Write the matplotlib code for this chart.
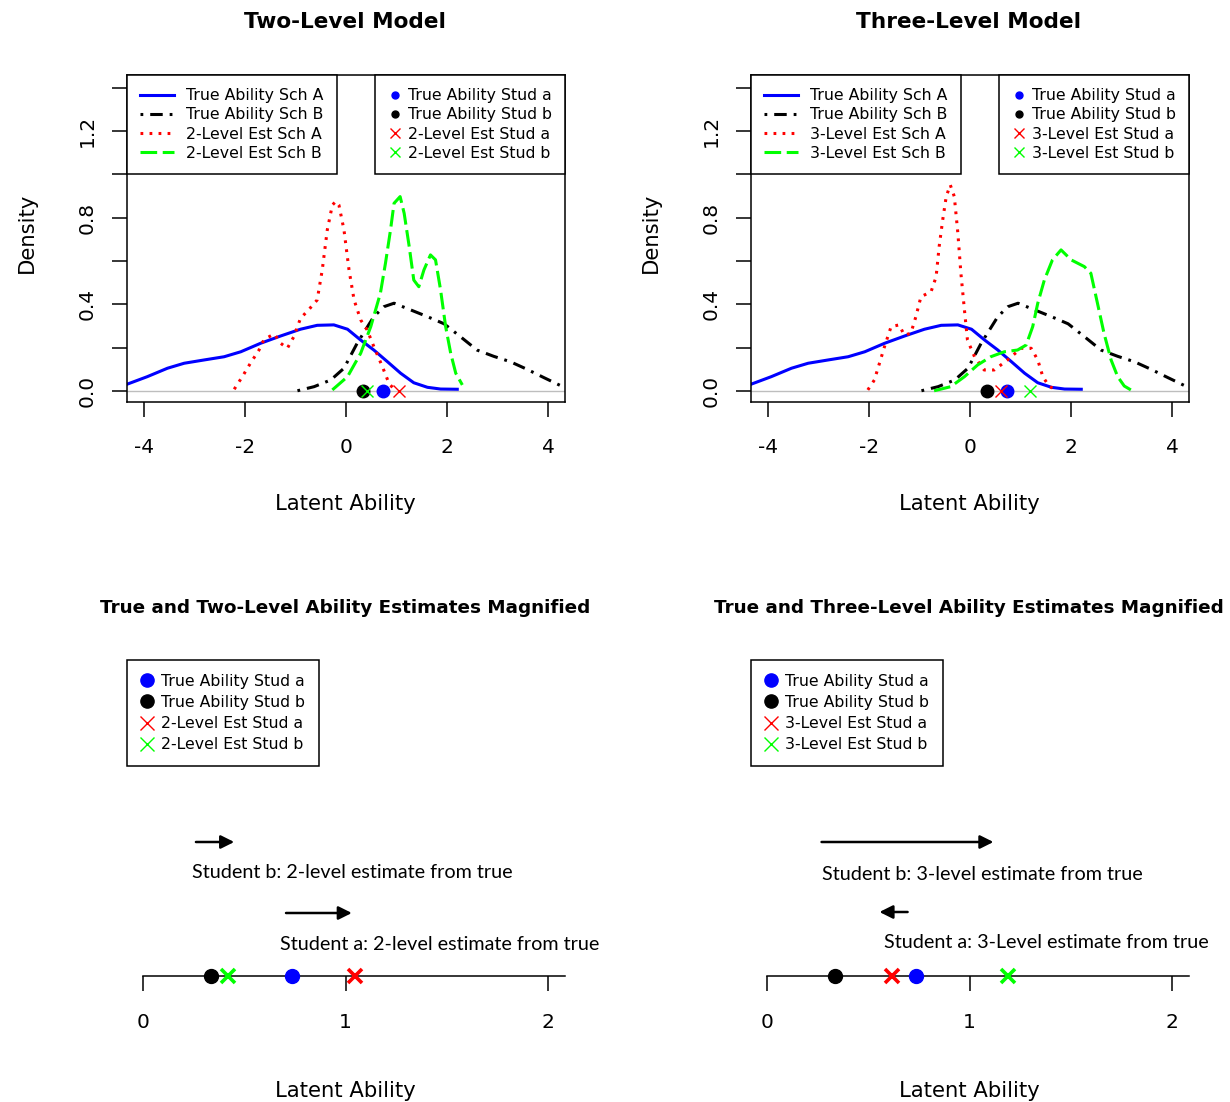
import numpy as np
import matplotlib
matplotlib.use("Agg")
import matplotlib.pyplot as plt
from matplotlib.lines import Line2D
from matplotlib.patches import Rectangle

plt.rcParams['font.family'] = 'DejaVu Sans'
plt.rcParams['lines.scale_dashes'] = False

W, H, DPI = 1230, 1102, 100

# density curves, school A / school B
true_a_x = [-4.32, -3.93, -3.53, -3.20, -2.81, -2.41, -2.08, -1.69, -1.29, -0.90, -0.57, -0.24, 0.03, 0.29, 0.55, 0.82, 1.08, 1.34, 1.61, 1.87, 2.20]
true_a_y = [0.032, 0.066, 0.105, 0.128, 0.143, 0.158, 0.181, 0.220, 0.254, 0.285, 0.303, 0.305, 0.285, 0.235, 0.189, 0.135, 0.082, 0.038, 0.017, 0.009, 0.008]
true_b_x = [-0.96, -0.63, -0.30, -0.04, 0.22, 0.55, 0.75, 0.95, 1.28, 1.61, 1.94, 2.26, 2.59, 2.92, 3.25, 3.58, 3.91, 4.33]
true_b_y = [0.001, 0.020, 0.051, 0.105, 0.220, 0.343, 0.389, 0.405, 0.374, 0.343, 0.310, 0.251, 0.189, 0.160, 0.135, 0.100, 0.062, 0.015]

est2_a_x = [-2.21, -2.05, -1.89, -1.72, -1.62, -1.42, -1.29, -1.16, -1.03, -0.90, -0.73, -0.57, -0.47, -0.37, -0.27, -0.20, -0.14, -0.04, 0.06, 0.16, 0.29, 0.42, 0.55, 0.72, 0.85, 0.95]
est2_a_y = [0.008, 0.066, 0.128, 0.189, 0.238, 0.263, 0.220, 0.197, 0.251, 0.335, 0.377, 0.420, 0.558, 0.743, 0.858, 0.875, 0.858, 0.743, 0.558, 0.420, 0.328, 0.281, 0.205, 0.112, 0.035, 0.008]
est2_b_x = [-0.27, 0.03, 0.29, 0.49, 0.68, 0.78, 0.88, 0.95, 1.07, 1.15, 1.25, 1.34, 1.44, 1.54, 1.67, 1.77, 1.87, 1.97, 2.07, 2.17, 2.30]
est2_b_y = [0.005, 0.066, 0.174, 0.297, 0.451, 0.589, 0.743, 0.866, 0.897, 0.820, 0.666, 0.512, 0.481, 0.558, 0.628, 0.605, 0.466, 0.297, 0.174, 0.082, 0.028]

est3_a_x = [-2.02, -1.89, -1.79, -1.69, -1.56, -1.40, -1.30, -1.17, -1.07, -0.97, -0.77, -0.67, -0.61, -0.54, -0.47, -0.39, -0.31, -0.24, -0.18, -0.11, -0.05, 0.09, 0.28, 0.48, 0.74, 1.01, 1.21, 1.34, 1.44, 1.57, 1.73]
est3_a_y = [0.005, 0.051, 0.128, 0.205, 0.297, 0.305, 0.258, 0.266, 0.343, 0.435, 0.458, 0.527, 0.666, 0.789, 0.897, 0.951, 0.897, 0.728, 0.543, 0.374, 0.235, 0.158, 0.097, 0.097, 0.143, 0.197, 0.197, 0.143, 0.066, 0.020, 0.005]
est3_b_x = [-0.71, -0.38, -0.11, 0.15, 0.41, 0.68, 0.94, 1.11, 1.24, 1.34, 1.47, 1.63, 1.80, 2.00, 2.26, 2.39, 2.52, 2.65, 2.79, 2.92, 3.05, 3.18]
est3_b_y = [0.001, 0.020, 0.066, 0.120, 0.158, 0.181, 0.189, 0.212, 0.297, 0.405, 0.512, 0.605, 0.651, 0.605, 0.574, 0.543, 0.405, 0.266, 0.143, 0.066, 0.023, 0.005]

# individual students
stud_a_true = 0.736
stud_b_true = 0.336
stud_a_est2 = 1.045
stud_b_est2 = 0.416
stud_a_est3 = 0.617
stud_b_est3 = 1.187

fig = plt.figure(figsize=(W / DPI, H / DPI), dpi=DPI)


def fx(x):
    return x / W


def fy(y):
    return 1 - y / H


def px_axes(x0, y0, x1, y1):
    return fig.add_axes([x0 / W, 1 - y1 / H, (x1 - x0) / W, (y1 - y0) / H])


GREEN = '#00ff00'


def density_panel(left, ea_x, ea_y, eb_x, eb_y, est_a, est_b, lvl, title):
    ax = px_axes(left, 75, left + 438, 402)
    ax.axhline(0, color='#bebebe', lw=1, zorder=1)
    l1, = ax.plot(true_a_x, true_a_y, color='blue', lw=2.2)
    l2, = ax.plot(true_b_x, true_b_y, color='black', lw=2.2, dashes=(2, 5, 9, 5))
    l3, = ax.plot(ea_x, ea_y, color='red', lw=2.2, dashes=(2, 4.5))
    l4, = ax.plot(eb_x, eb_y, color=GREEN, lw=2.2, dashes=(12, 4))
    ax.plot([stud_a_true], [0], 'o', color='blue', ms=9, zorder=5, clip_on=False)
    ax.plot([stud_b_true], [0], 'o', color='black', ms=9, zorder=5, clip_on=False)
    ax.plot([est_a], [0], 'x', color='red', ms=9, mew=1, zorder=5, clip_on=False)
    ax.plot([est_b], [0], 'x', color=GREEN, ms=9, mew=1, zorder=5, clip_on=False)

    ax.set_xlim(-4.33, 4.33)
    ax.set_ylim(-0.0508, 1.458)
    ax.set_xticks([-4, -2, 0, 2, 4])
    ax.set_xticklabels(['-4', '-2', '0', '2', '4'])
    ax.set_yticks(np.arange(0, 1.41, 0.2))
    ax.set_yticklabels(['0.0', '', '0.4', '', '0.8', '', '1.2', ''])
    ax.tick_params(direction='out', length=10.8, width=1.1, labelsize=14.5)
    ax.tick_params(axis='x', pad=15.3)
    ax.tick_params(axis='y', pad=11.2, labelrotation=90)
    plt.setp(ax.get_yticklabels(), va='center')
    for s in ax.spines.values():
        s.set_linewidth(1.1)

    leg1 = ax.legend([l1, l2, l3, l4],
                     ['True Ability Sch A', 'True Ability Sch B',
                      f'{lvl}-Level Est Sch A', f'{lvl}-Level Est Sch B'],
                     loc='upper left', bbox_to_anchor=(0, 1), borderaxespad=0,
                     fontsize=11.3, labelspacing=0.26, borderpad=0.85,
                     handlelength=2.17, handletextpad=0.76, fancybox=False,
                     edgecolor='black', framealpha=1)
    leg1.get_frame().set_linewidth(1.1)
    ax.add_artist(leg1)
    pts = [Line2D([], [], ls='', marker='o', color='blue', ms=5),
           Line2D([], [], ls='', marker='o', color='black', ms=5),
           Line2D([], [], ls='', marker='x', color='red', ms=7, mew=1),
           Line2D([], [], ls='', marker='x', color=GREEN, ms=7, mew=1)]
    leg2 = ax.legend(pts, ['True Ability Stud a', 'True Ability Stud b',
                           f'{lvl}-Level Est Stud a', f'{lvl}-Level Est Stud b'],
                     loc='upper right', bbox_to_anchor=(1, 1), borderaxespad=0,
                     fontsize=11.3, labelspacing=0.26, borderpad=0.85,
                     handlelength=0.8, handletextpad=0.41, fancybox=False,
                     edgecolor='black', framealpha=1)
    leg2.get_frame().set_linewidth(1.1)

    cx = left + 218
    fig.text(fx(cx), fy(28.3), title, ha='center', va='baseline',
             fontweight='bold', fontsize=15.6)
    fig.text(fx(cx), fy(510), 'Latent Ability', ha='center', va='baseline', fontsize=15.2)
    fig.text(fx(left - 94), fy(233), 'Density', rotation=90, rotation_mode='anchor',
             ha='center', va='baseline', fontsize=15.2)
    return ax


def magnified_panel(left, est_a, est_b, lvl, arrows, notes, title, clip_last=False):
    ax = px_axes(left, 660, left + 438, 992)
    ax.set_xlim(-0.0805, 2.083)
    ax.set_ylim(-16, 316)
    for s in ['top', 'right', 'left']:
        ax.spines[s].set_visible(False)
    ax.spines['bottom'].set_position(('data', 0))
    ax.spines['bottom'].set_bounds(0, 2.083)
    ax.spines['bottom'].set_linewidth(1.1)
    ax.set_yticks([])
    ax.set_xticks([0, 1, 2])
    ax.tick_params(axis='x', direction='out', length=10.8, width=1.1,
                   labelsize=14.5, pad=16)
    ax.patch.set_visible(False)

    ax.plot([stud_a_true], [0], 'o', color='blue', ms=10, zorder=5, clip_on=False)
    ax.plot([stud_b_true], [0], 'o', color='black', ms=10, zorder=5, clip_on=False)
    ax.plot([est_a], [0], 'x', color='red', ms=10, mew=2.6, zorder=6, clip_on=False)
    ax.plot([est_b], [0], 'x', color=GREEN, ms=10, mew=2.6, zorder=6, clip_on=False)

    pts = [Line2D([], [], ls='', marker='o', color='blue', ms=9.5),
           Line2D([], [], ls='', marker='o', color='black', ms=9.5),
           Line2D([], [], ls='', marker='x', color='red', ms=10, mew=1),
           Line2D([], [], ls='', marker='x', color=GREEN, ms=10, mew=1)]
    leg = ax.legend(pts, ['True Ability Stud a', 'True Ability Stud b',
                          f'{lvl}-Level Est Stud a', f'{lvl}-Level Est Stud b'],
                    loc='upper left', bbox_to_anchor=(0, 1), borderaxespad=0,
                    fontsize=11.3, labelspacing=0.4, borderpad=0.87,
                    handlelength=0.8, handletextpad=0.5, fancybox=False,
                    edgecolor='black', framealpha=1)
    leg.get_frame().set_linewidth(1.1)

    for (x0, x1, y) in arrows:
        ax.annotate('', xy=(x1, y), xytext=(x0, y),
                    arrowprops=dict(arrowstyle='-|>', color='black', lw=1.8,
                                    mutation_scale=20, shrinkA=0, shrinkB=0),
                    annotation_clip=False)
    for i, (x, y, s) in enumerate(notes):
        t = ax.text(x, y, s, ha='left', va='baseline', family='Lato', fontsize=14.2)
        if clip_last and i == len(notes) - 1:
            t.set_clip_path(Rectangle((-1, 28.5), 5, 400, transform=ax.transData))

    cx = left + 218
    fig.text(fx(cx), fy(612.7), title, ha='center', va='baseline',
             fontweight='bold', fontsize=13.2)
    fig.text(fx(cx), fy(1096.7), 'Latent Ability', ha='center', va='baseline', fontsize=15.2)
    return ax


density_panel(127, est2_a_x, est2_a_y, est2_b_x, est2_b_y, stud_a_est2, stud_b_est2,
              2, 'Two-Level Model')
density_panel(751, est3_a_x, est3_a_y, est3_b_x, est3_b_y, stud_a_est3, stud_b_est3,
              3, 'Three-Level Model')

magnified_panel(127, stud_a_est2, stud_b_est2, 2,
                arrows=[(0.260, 0.449, 134), (0.705, 1.030, 63)],
                notes=[(0.240, 97.7, 'Student b: 2-level estimate from true'),
                       (0.675, 26, 'Student a: 2-level estimate from true')],
                title='True and Two-Level Ability Estimates Magnified')
magnified_panel(751, stud_a_est3, stud_b_est3, 3,
                arrows=[(0.268, 1.117, 134), (0.693, 0.554, 64)],
                notes=[(0.270, 96, 'Student b: 3-level estimate from true'),
                       (0.575, 27.5, 'Student a: 3-Level estimate from true')],
                title='True and Three-Level Ability Estimates Magnified',
                clip_last=True)

fig.savefig('out.png', dpi=DPI)
